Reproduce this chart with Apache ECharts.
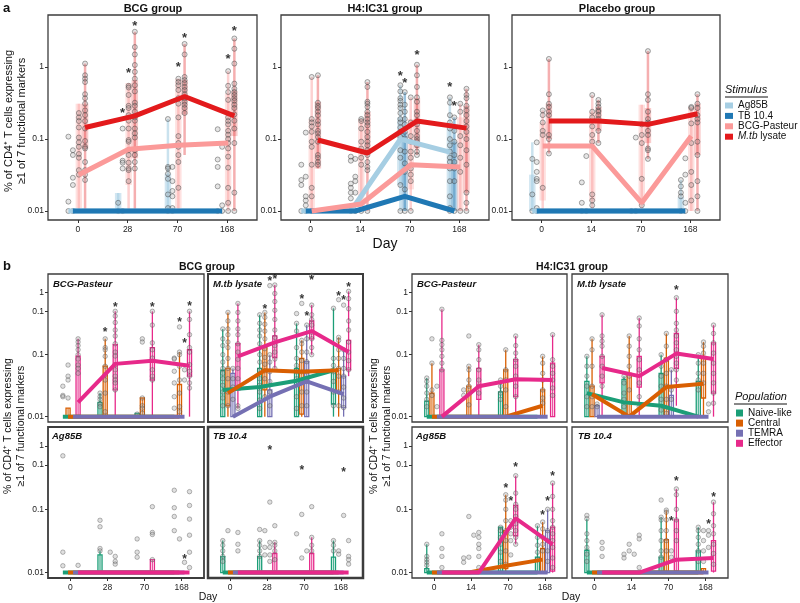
<!DOCTYPE html>
<html><head><meta charset="utf-8">
<script src="https://cdn.jsdelivr.net/npm/echarts@6/dist/echarts.min.js"></script>
<style>html,body{margin:0;padding:0;background:#fff}#c{width:800px;height:603px}</style>
</head><body><div id="c"></div><script>
// ---------- labels / categories ----------
const stimNames = ['Ag85B', 'TB 10.4', 'BCG-Pasteur', 'M.tb lysate'];
const popNames = ['Naive-like', 'Central', 'TEMRA', 'Effector'];
const daysBCG = ['0', '28', '70', '168'];
const daysH4 = ['0', '14', '70', '168'];
const yTicksA = [0.01, 0.1, 1];
const yTickLabelsA = ['0.01', '0.1', '1'];
const yTicksB = [0.01, 0.1, 0.5, 1];
const yTickLabelsB = ['0.01', '0.1', '0.1', '1'];

// ---------- panel a: medians [stimulus][day] ----------
const aBCG_med = [[0.01,0.01,0.01,0.01],[0.01,0.01,0.01,0.01],[0.032,0.072,0.082,0.088],[0.145,0.21,0.39,0.21]];
const aH4_med  = [[0.01,0.01,0.1,0.066],[0.01,0.01,0.016,0.01],[0.01,0.0125,0.044,0.041],[0.097,0.064,0.178,0.142]];
const aPl_med  = [[0.01,0.01,0.01,0.01],[0.01,0.01,0.01,0.01],[0.08,0.08,0.013,0.11],[0.178,0.178,0.16,0.225]];
// boxes: [stimulus, day, low whisker, q1, q3, high whisker]
const aBCG_box = [[2,0,0.01,0.011,0.31,0.31],[3,0,0.01,0.074,0.31,1.12],[0,1,0.01,0.01,0.0178,0.0178],[2,1,0.01,0.023,0.6,0.6],[3,1,0.01,0.054,0.66,3.1],[0,2,0.01,0.01,0.033,0.19],[2,2,0.01,0.011,0.69,0.69],[3,2,0.06,0.22,0.66,2.1],[2,3,0.01,0.0115,0.43,0.88],[3,3,0.01,0.11,0.47,2.5]];
const aH4_box = [[2,0,0.01,0.01,0.19,0.73],[3,0,0.039,0.039,0.33,0.77],[2,1,0.01,0.0115,0.19,0.19],[3,1,0.01,0.06,0.24,0.62],[0,2,0.01,0.023,0.2,0.56],[1,2,0.01,0.01,0.126,0.45],[2,2,0.01,0.02,0.19,0.38],[3,2,0.06,0.074,0.37,1.08],[0,3,0.01,0.01,0.14,0.38],[1,3,0.01,0.01,0.092,0.2],[2,3,0.01,0.01,0.2,0.31],[3,3,0.01,0.018,0.29,0.5]];
const aPl_box = [[0,0,0.01,0.01,0.032,0.09],[2,0,0.01,0.014,0.17,0.25],[3,0,0.063,0.1,0.31,1.3],[2,1,0.01,0.0136,0.24,0.41],[3,1,0.088,0.13,0.28,0.35],[2,2,0.01,0.012,0.3,0.3],[3,2,0.053,0.088,0.27,1.67],[0,3,0.01,0.01,0.0155,0.027],[2,3,0.01,0.01,0.28,0.28],[3,3,0.01,0.06,0.31,0.42]];
// points: [stimulus, day, values...]
const aBCG_pts = [
 [0,0,0.108,0.0135,0.01],[1,0,0.07,0.06,0.029,0.023,0.01],
 [2,0,0.23,0.2,0.178,0.145,0.105,0.09,0.078,0.062,0.055,0.037,0.032],
 [3,0,1.12,0.77,0.69,0.62,0.42,0.37,0.31,0.25,0.215,0.178,0.14,0.094,0.078,0.074,0.048,0.037,0.032,0.027],
 [0,1,0.013,0.01],[1,1,0.14,0.05,0.047,0.039,0.01],
 [2,1,0.55,0.52,0.41,0.29,0.27,0.215,0.18,0.14,0.097,0.092,0.07,0.06,0.047,0.039,0.037,0.026],
 [3,1,3.1,1.9,1.5,1.07,0.86,0.69,0.56,0.46,0.32,0.29,0.24,0.2,0.18,0.14,0.12,0.105,0.07,0.06,0.048,0.039],
 [0,2,0.19,0.041,0.039,0.033,0.028,0.017,0.011,0.01],[1,2,0.041,0.026,0.019,0.016,0.011,0.01],
 [2,2,0.69,0.62,0.56,0.48,0.37,0.31,0.2,0.11,0.088,0.078,0.06,0.048,0.021],
 [3,2,2.1,1.5,0.73,0.66,0.6,0.53,0.48,0.42,0.37,0.33,0.3,0.27,0.23],
 [0,3,0.137,0.052,0.041,0.022,0.01],[1,3,0.078,0.012,0.01],
 [2,3,0.88,0.55,0.45,0.35,0.2,0.178,0.16,0.13,0.115,0.1,0.088,0.074,0.057,0.04,0.021,0.013,0.01],
 [3,3,2.5,1.8,1.12,0.59,0.5,0.45,0.41,0.37,0.34,0.3,0.27,0.22,0.18,0.14,0.088,0.018,0.01]];
const aH4_pts = [
 [0,0,0.044,0.027,0.023,0.01],[1,0,0.123,0.03,0.016,0.014,0.012,0.01],
 [2,0,0.73,0.19,0.17,0.15,0.126,0.092,0.078,0.044,0.021,0.016,0.01],
 [3,0,0.77,0.32,0.29,0.27,0.24,0.215,0.178,0.16,0.13,0.12,0.107,0.092,0.06,0.055,0.048,0.044],
 [0,1,0.057,0.05,0.024,0.021,0.018,0.015,0.01],[1,1,0.053,0.03,0.026,0.018,0.01],
 [2,1,0.19,0.178,0.14,0.092,0.074,0.055,0.044,0.01],
 [3,1,0.62,0.53,0.33,0.31,0.28,0.24,0.215,0.19,0.17,0.155,0.126,0.107,0.092,0.082,0.07,0.06,0.048,0.041,0.037,0.01],
 [0,2,0.56,0.46,0.37,0.34,0.3,0.27,0.23,0.19,0.17,0.145,0.126,0.107,0.07,0.055,0.023,0.01],
 [1,2,0.45,0.3,0.24,0.19,0.16,0.126,0.102,0.067,0.046,0.035,0.02,0.01],
 [2,2,0.38,0.17,0.11,0.092,0.067,0.055,0.039,0.032,0.026,0.01],
 [3,2,1.08,0.77,0.53,0.38,0.33,0.24,0.215,0.178,0.16,0.13,0.11,0.1,0.092,0.082,0.067,0.06],
 [0,3,0.38,0.32,0.215,0.17,0.14,0.1,0.082,0.067,0.055,0.048,0.039,0.026,0.016,0.011,0.01],
 [1,3,0.2,0.13,0.092,0.06,0.048,0.039,0.026,0.01],[2,3,0.31,0.24,0.11,0.082,0.055,0.035,0.01],
 [3,3,0.5,0.41,0.37,0.29,0.25,0.215,0.178,0.15,0.126,0.1,0.07,0.044,0.018,0.013,0.01]];
const aPl_pts = [
 [0,0,0.053,0.017,0.01],[1,0,0.09,0.048,0.035,0.028,0.026,0.011,0.01],[2,0,0.25,0.215,0.17,0.13,0.114,0.021],
 [3,0,1.3,0.42,0.31,0.28,0.24,0.215,0.114,0.1,0.063],
 [0,1,0.025,0.013,0.01],[1,1,0.058,0.01],[2,1,0.41,0.24,0.2,0.15,0.114,0.092,0.017,0.014,0.012],
 [3,1,0.35,0.31,0.28,0.25,0.24,0.215,0.19,0.13,0.088],
 [0,2,0.01],[1,2,0.105,0.01],[2,2,0.16,0.114,0.088,0.028,0.012],
 [3,2,1.67,0.42,0.35,0.24,0.19,0.17,0.16,0.13,0.114,0.074,0.07,0.053],
 [0,3,0.027,0.022,0.018,0.016,0.01],[1,3,0.054,0.032,0.013,0.01],[2,3,0.28,0.27,0.165,0.088,0.035,0.023,0.014],
 [3,3,0.42,0.31,0.27,0.215,0.19,0.17,0.092,0.06,0.026,0.016,0.01]];
// significance stars: [stimulus, day, value]
const aBCG_star = [[1,1,0.25],[2,1,0.91],[3,1,4.0],[2,2,1.09],[3,2,2.8],[2,3,1.39],[3,3,3.5]];
const aH4_star = [[0,2,0.82],[1,2,0.66],[3,2,1.6],[0,3,0.57],[1,3,0.31]];
const aPl_star = [];

// ---------- panel b: medians [population][day] ----------
const bBCG_BCGP_med = [[0.01,0.01,0.01,0.01],[0.01,0.01,0.01,0.01],[0.01,0.01,0.01,0.01],[0.017,0.071,0.08,0.066]];
const bBCG_Mtb_med = [[0.027,0.03,0.038,0.056],[0.024,0.056,0.053,0.056],[0.01,0.021,0.037,0.023],[0.094,0.158,0.24,0.11]];
const bBCG_Ag_med = [[0.01,0.01,0.01,0.01],[0.01,0.01,0.01,0.01],[0.01,0.01,0.01,0.01],[0.01,0.01,0.01,0.01]];
const bBCG_TB_med = [[0.01,0.01,0.01,0.01],[0.01,0.01,0.01,0.01],[0.01,0.01,0.01,0.01],[0.01,0.01,0.01,0.01]];
const bH4_BCGP_med = [[0.01,0.01,0.01,0.01],[0.01,0.01,0.01,0.015],[0.01,0.01,0.01,0.01],[0.01,0.031,0.04,0.039]];
const bH4_Mtb_med = [[0.024,0.017,0.015,0.01],[0.023,0.01,0.03,0.034],[0.01,0.01,0.01,0.01],[0.061,0.045,0.104,0.085]];
const bH4_Ag_med = [[0.01,0.01,0.01,0.01],[0.01,0.01,0.0128,0.016],[0.01,0.01,0.01,0.01],[0.01,0.01,0.072,0.028]];
const bH4_TB_med = [[0.01,0.01,0.01,0.01],[0.01,0.01,0.01,0.01],[0.01,0.01,0.01,0.01],[0.01,0.01,0.016,0.017]];
// boxes: [population, day, low, q1, q3, high]
const bBCG_BCGP_box = [[1,0,0.01,0.01,0.0137,0.0137],[3,0,0.01,0.0105,0.095,0.18],[0,1,0.01,0.01,0.017,0.024],[1,1,0.01,0.0105,0.065,0.18],[3,1,0.01,0.027,0.145,0.5],[0,2,0.01,0.01,0.0113,0.0113],[1,2,0.01,0.01,0.02,0.02],[3,2,0.01,0.039,0.13,0.5],[1,3,0.01,0.01,0.033,0.11],[3,3,0.01,0.045,0.12,0.5]];
const bBCG_Mtb_box = [[0,0,0.01,0.01,0.056,0.26],[1,0,0.01,0.015,0.06,0.48],[2,0,0.01,0.01,0.05,0.06],[3,0,0.0136,0.027,0.15,0.67],[0,1,0.01,0.01,0.06,0.44],[1,1,0.01,0.027,0.13,0.48],[2,1,0.01,0.01,0.027,0.1],[3,1,0.06,0.09,0.2,1.33],[0,2,0.01,0.01,0.06,0.32],[1,2,0.01,0.011,0.087,0.17],[2,2,0.01,0.01,0.077,0.3],[3,2,0.1,0.18,0.35,0.63],[0,3,0.01,0.016,0.058,0.56],[1,3,0.01,0.025,0.06,0.19],[2,3,0.01,0.014,0.045,0.12],[3,3,0.045,0.057,0.17,1.05]];
const bBCG_Ag_box = [[0,1,0.01,0.01,0.019,0.022],[3,2,0.01,0.01,0.016,0.016]];
const bBCG_TB_box = [[0,0,0.01,0.01,0.0178,0.032],[0,1,0.01,0.01,0.0178,0.032],[3,1,0.01,0.01,0.02,0.03],[3,2,0.01,0.01,0.02,0.036],[0,3,0.01,0.01,0.0175,0.032]];
const bH4_BCGP_box = [[0,0,0.01,0.01,0.0178,0.042],[1,0,0.01,0.01,0.024,0.073],[3,0,0.01,0.01,0.057,0.54],[1,1,0.01,0.01,0.031,0.065],[3,1,0.01,0.019,0.06,0.145],[0,2,0.01,0.01,0.025,0.039],[1,2,0.01,0.01,0.057,0.12],[3,2,0.01,0.021,0.083,0.2],[1,3,0.01,0.01,0.027,0.094],[3,3,0.01,0.01,0.073,0.21]];
const bH4_Mtb_box = [[0,0,0.01,0.01,0.037,0.094],[1,0,0.01,0.01,0.031,0.18],[2,0,0.01,0.01,0.015,0.016],[3,0,0.01,0.035,0.094,0.44],[0,1,0.01,0.01,0.04,0.045],[1,1,0.01,0.01,0.05,0.2],[3,1,0.01,0.03,0.094,0.39],[0,2,0.01,0.01,0.05,0.1],[1,2,0.01,0.01,0.088,0.22],[2,2,0.01,0.01,0.022,0.057],[3,2,0.015,0.06,0.22,0.83],[0,3,0.01,0.01,0.037,0.1],[1,3,0.01,0.02,0.094,0.16],[3,3,0.01,0.024,0.155,0.3]];
const bH4_Ag_box = [[0,0,0.01,0.01,0.0115,0.028],[0,2,0.01,0.01,0.052,0.052],[1,2,0.01,0.0115,0.046,0.17],[3,2,0.028,0.038,0.115,0.34],[0,3,0.01,0.01,0.0175,0.055],[1,3,0.01,0.01,0.024,0.063],[2,3,0.01,0.01,0.046,0.1],[3,3,0.01,0.0105,0.052,0.26]];
const bH4_TB_box = [[0,0,0.01,0.01,0.0225,0.071],[0,2,0.01,0.01,0.0175,0.075],[1,2,0.01,0.01,0.033,0.097],[3,2,0.01,0.0105,0.068,0.21],[0,3,0.01,0.01,0.022,0.052],[1,3,0.01,0.01,0.0115,0.0115],[3,3,0.01,0.0105,0.032,0.13]];
// points: [population, day, values...]
const bBCG_BCGP_pts = [[0,0,0.031,0.022,0.021],[1,0,0.068,0.045,0.039,0.02],[3,0,0.18,0.16,0.14,0.12,0.1,0.085,0.068,0.06,0.05],
 [0,1,0.024,0.021,0.019,0.016,0.0145],[1,1,0.18,0.13,0.12,0.094,0.065,0.047,0.039,0.024,0.012],
 [3,1,0.5,0.42,0.33,0.25,0.2,0.15,0.11,0.095,0.069,0.057,0.045,0.039,0.035,0.027],
 [0,2,0.011],[1,2,0.18,0.16,0.02,0.015,0.0137,0.0113],[3,2,0.5,0.3,0.155,0.12,0.088,0.057,0.045,0.039],
 [0,3,0.088,0.085,0.054,0.035,0.021,0.0137],[1,3,0.28,0.11,0.1,0.065,0.039,0.024,0.0145,0.012],[2,3,0.057,0.039],
 [3,3,0.5,0.37,0.21,0.13,0.11,0.069,0.054,0.045,0.035,0.029]];
const bBCG_Mtb_pts = [[0,0,0.26,0.18,0.14,0.1,0.076,0.06,0.05,0.041,0.032,0.025,0.02,0.015],
 [1,0,0.48,0.35,0.26,0.21,0.16,0.13,0.087,0.06,0.041,0.025,0.015],[2,0,0.06,0.041,0.03,0.019],
 [3,0,0.67,0.48,0.35,0.26,0.21,0.15,0.11,0.084,0.06,0.041,0.03,0.015,0.0136],
 [0,1,0.44,0.32,0.25,0.2,0.15,0.1,0.076,0.056,0.041,0.032,0.025,0.0185,0.0136],
 [1,1,0.48,0.4,0.31,0.24,0.18,0.125,0.09,0.07,0.055,0.041,0.021],[2,1,1.3,0.1,0.076,0.053,0.037,0.025,0.015],
 [3,1,1.33,0.97,0.72,0.52,0.37,0.25,0.19,0.14,0.11,0.085,0.06],
 [0,2,0.46,0.32,0.24,0.13,0.087,0.067,0.053,0.041,0.021,0.0136],[1,2,0.67,0.17,0.15,0.11,0.08,0.053,0.037,0.025,0.015],
 [2,2,0.3,0.18,0.11,0.077,0.053,0.037,0.025,0.015],[3,2,1.9,0.63,0.44,0.37,0.3,0.23,0.18,0.13,0.1],
 [0,3,0.56,0.087,0.067,0.053,0.037,0.025,0.015],[1,3,0.77,0.19,0.17,0.12,0.087,0.06,0.045,0.025,0.015],
 [2,3,0.63,0.12,0.087,0.06,0.045,0.03,0.02,0.014],[3,3,1.05,0.8,0.55,0.35,0.25,0.16,0.11,0.08,0.057]];
const bBCG_Ag_pts = [[0,0,0.7,0.021,0.0128],[3,0,0.013],[0,1,0.067,0.053,0.024,0.022],[2,1,0.021],[3,1,0.018,0.015,0.0136],
 [0,2,0.034,0.021,0.0175],[3,2,0.11,0.043,0.04,0.016],[0,3,0.2,0.106,0.077,0.046],[1,3,0.034],[2,3,0.0145],
 [3,3,0.19,0.115,0.07,0.039,0.021,0.012]];
const bBCG_TB_pts = [[0,0,0.032,0.027,0.022,0.018,0.015],[1,0,0.046],[3,0,0.043,0.028,0.022],
 [0,1,0.048,0.032,0.027,0.022,0.018],[1,1,0.046,0.025,0.019],[2,1,0.13,0.03,0.025,0.019,0.015],[3,1,0.055,0.03,0.027,0.022,0.016],
 [0,2,0.041],[1,2,0.083,0.017],[2,2,0.022],[3,2,0.11,0.036,0.027,0.022],
 [0,3,0.032,0.027,0.022],[1,3,0.022,0.0195],[2,3,0.08],[3,3,0.032,0.018,0.016,0.0136]];
const bH4_BCGP_pts = [[0,0,0.042,0.037,0.031,0.024,0.019,0.0145],[1,0,0.18,0.073,0.027,0.022],[2,0,0.031,0.0145],
 [3,0,0.54,0.17,0.145,0.12,0.094,0.073,0.057],[0,1,0.027,0.022],[1,1,0.2,0.065,0.057,0.039,0.031,0.024,0.0155],
 [3,1,0.145,0.12,0.083,0.057,0.039,0.031,0.024],[0,2,0.039,0.031,0.024,0.019],[1,2,0.12,0.057,0.039,0.027,0.0145],
 [3,2,0.2,0.14,0.106,0.083,0.065,0.045,0.031,0.021],[1,3,0.094,0.073,0.05,0.039,0.027,0.02,0.0165],
 [3,3,0.21,0.083,0.065,0.05,0.039,0.029,0.022]];
const bH4_Mtb_pts = [[0,0,0.094,0.065,0.045,0.031,0.021,0.0145],[1,0,0.18,0.12,0.065,0.031,0.021,0.0145],[2,0,0.016,0.0145],
 [3,0,0.44,0.2,0.165,0.137,0.094,0.065,0.045,0.031],[0,1,0.045,0.035,0.024,0.019,0.0145],[1,1,0.2,0.137,0.094,0.065,0.045,0.027],
 [3,1,0.39,0.29,0.18,0.12,0.083,0.057,0.035,0.021,0.0145],[0,2,0.1,0.065,0.045,0.031,0.019,0.0128],
 [1,2,0.22,0.137,0.083,0.05,0.031,0.019,0.0113],[2,2,0.057,0.027,0.019],
 [3,2,0.83,0.5,0.32,0.25,0.2,0.155,0.12,0.094,0.073,0.057,0.039],[0,3,0.1,0.073,0.05,0.039,0.027],
 [1,3,0.16,0.137,0.106,0.073,0.05,0.035],[2,3,0.016,0.012],[3,3,0.3,0.22,0.155,0.106,0.073,0.05,0.035,0.024,0.0165]];
const bH4_Ag_pts = [[0,0,0.028,0.018,0.016,0.0145,0.013],[3,0,0.041,0.024,0.018,0.012],[0,1,0.017,0.0145],[1,1,0.077,0.0175],
 [2,1,0.039],[3,1,0.043,0.036,0.028,0.024,0.018,0.012],[0,2,0.052,0.046,0.036,0.028,0.021,0.015],
 [1,2,0.17,0.14,0.1,0.066,0.046,0.032,0.022,0.0135],[2,2,0.066,0.052,0.041,0.032,0.019],
 [3,2,0.34,0.18,0.12,0.1,0.077,0.059,0.046,0.036,0.028],[0,3,0.055,0.036,0.027,0.021,0.016],
 [1,3,0.063,0.049,0.036,0.028,0.022],[2,3,0.1,0.046,0.032,0.022,0.015],[3,3,0.26,0.16,0.1,0.066,0.052,0.041,0.032,0.025,0.017,0.012]];
const bH4_TB_pts = [[0,0,0.08,0.071,0.041,0.032,0.025,0.0195,0.015],[3,0,0.03,0.024,0.018],[0,1,0.0195,0.017],[1,1,0.028,0.022],
 [2,1,0.0195],[3,1,0.039,0.034,0.012],[0,2,0.14,0.075,0.068,0.046,0.032,0.022,0.0175],[1,2,0.097,0.09,0.068,0.046,0.032,0.022],
 [2,2,0.022,0.0175],[3,2,0.21,0.17,0.1,0.068,0.046,0.032],[0,3,0.052,0.046,0.036,0.028,0.022,0.015],
 [1,3,0.046,0.032,0.022,0.015],[2,3,0.046,0.039,0.025],[3,3,0.13,0.085,0.055,0.041,0.028,0.02,0.0135]];
// stars: [population, day, value]
const bBCG_BCGP_star = [[1,1,0.25],[3,1,0.65],[3,2,0.65],[1,3,0.36],[2,3,0.17],[3,3,0.67]];
const bBCG_Mtb_star = [[2,1,1.7],[3,1,1.78],[1,1,0.59],[1,2,0.86],[2,2,0.45],[3,2,1.75],[1,3,0.97],[2,3,0.83],[3,3,1.33]];
const bBCG_Ag_star = [[2,3,0.0178]];
const bBCG_TB_star = [[2,1,0.93],[1,2,0.46],[2,3,0.43]];
const bH4_BCGP_star = [];
const bH4_Mtb_star = [[3,2,1.2]];
const bH4_Ag_star = [[1,2,0.24],[2,2,0.148],[3,2,0.5],[1,3,0.09],[2,3,0.148],[3,3,0.37]];
const bH4_TB_star = [[2,2,0.071],[3,2,0.3],[2,3,0.063],[3,3,0.17]];

// ---------- styling ----------
const FONT = 'Liberation Sans';
const stimColors = ['#a6cee3', '#1f78b4', '#fb9a99', '#e31a1c'];
const popColors = ['#1b9e77', '#d95f02', '#7570b3', '#e7298a'];
const offA = [-0.19, -0.1, 0.02, 0.145];
const offB = [-0.2, -0.06, 0.075, 0.21];
const boxFillA = [0.5, 0.3, 0.3, 0.22];
const boxLineA = [0.6, 0.45, 0.45, 0.35];

function rgba(hex, a) {
  const n = parseInt(hex.slice(1), 16);
  return 'rgba(' + (n >> 16 & 255) + ',' + (n >> 8 & 255) + ',' + (n & 255) + ',' + a + ')';
}
function tickIdx(ticks, v) {
  let best = 0, bd = 1e9;
  ticks.forEach((t, i) => { const d = Math.abs(Math.log10(t) - Math.log10(v)); if (d < bd) { bd = d; best = i; } });
  return best;
}

const grids = [], xAxes = [], yAxes = [], series = [];

function addPanel(p) {
  const gi = grids.length;
  const isA = p.kind === 'a';
  const colors = isA ? stimColors : popColors;
  const off = isA ? offA : offB;
  const names = isA ? stimNames : popNames;
  grids.push({ left: p.left, top: p.top, width: p.width, height: p.height, show: true,
    borderColor: '#3c3c3c', borderWidth: p.bw || 1.3, backgroundColor: '#fff', outerBoundsMode: 'none', containLabel: false });
  xAxes.push({ type: 'value', gridIndex: gi, min: 0.4, max: 4.6,
    axisLine: { show: false }, splitLine: { show: false },
    axisTick: { show: p.showX, customValues: [1, 2, 3, 4], length: 3, lineStyle: { color: '#333', width: 1 } },
    axisLabel: { show: p.showX, customValues: [1, 2, 3, 4], margin: 5, fontSize: 8.5, fontFamily: FONT, color: '#222',
      formatter: v => p.days[Math.round(v) - 1] } });
  const yt = isA ? yTicksA : yTicksB, yl = isA ? yTickLabelsA : yTickLabelsB;
  yAxes.push({ type: 'log', logBase: 10, gridIndex: gi, min: isA ? 0.0075 : 0.0082, max: isA ? 5.3 : 2.0,
    axisLine: { show: false }, splitLine: { show: false }, minorTick: { show: false },
    axisTick: { show: p.showY, customValues: yt, length: 3, lineStyle: { color: '#333', width: 1 } },
    axisLabel: { show: p.showY, customValues: yt, margin: 4, fontSize: 8.5, fontFamily: FONT, color: '#222',
      formatter: v => yl[tickIdx(yt, v)] } });

  const bw = isA ? 0.13 : 0.11;
  series.push({ type: 'custom', xAxisIndex: gi, yAxisIndex: gi, silent: true, z: 1, clip: true,
    encode: { x: 0, y: [1, 2, 3, 4] },
    data: p.box.map(b => [b[1] + 1 + off[b[0]], b[2], b[3], b[4], b[5], b[0]]),
    renderItem: function (params, api) {
      const x = api.value(0), k = api.value(5), c = colors[k];
      const lo = api.coord([x, api.value(1)]), hi = api.coord([x, api.value(4)]);
      const tl = api.coord([x - bw / 2, api.value(3)]), br = api.coord([x + bw / 2, api.value(2)]);
      const h = Math.max(br[1] - tl[1], 1);
      const whisk = { type: 'line', shape: { x1: lo[0], y1: lo[1], x2: hi[0], y2: hi[1] },
        style: isA ? { stroke: rgba(c, boxLineA[k]), lineWidth: 2.5 } : { stroke: c, lineWidth: 1.3 } };
      const rect = { type: 'rect', shape: { x: tl[0], y: tl[1], width: br[0] - tl[0], height: h },
        style: isA ? { fill: rgba(c, boxFillA[k]) } : { fill: 'rgba(255,255,255,0.2)', stroke: c, lineWidth: 1.3 } };
      return { type: 'group', children: [whisk, rect] };
    } });

  const pts = [];
  p.pts.forEach(r => { for (let j = 2; j < r.length; j++) pts.push([r[1] + 1 + off[r[0]], r[j]]); });
  series.push({ type: 'scatter', xAxisIndex: gi, yAxisIndex: gi, silent: true, z: 2, data: pts,
    symbolSize: isA ? 5 : 4.5,
    itemStyle: { color: isA ? 'rgba(150,150,150,0.3)' : 'rgba(160,160,160,0.4)',
      borderColor: isA ? 'rgba(45,45,45,0.65)' : 'rgba(70,70,70,0.6)', borderWidth: 0.8 } });

  p.med.forEach((m, k) => series.push({ type: 'line', name: names[k], xAxisIndex: gi, yAxisIndex: gi, z: 3 + k * 0.01,
    silent: true, symbol: 'none', data: m.map((v, d) => [d + 1 + off[k], v]),
    lineStyle: { color: colors[k], width: isA ? 5 : 4 }, itemStyle: { color: colors[k] } }));

  series.push({ type: 'scatter', xAxisIndex: gi, yAxisIndex: gi, silent: true, z: 6, symbolSize: 1,
    data: p.star.map(s => [s[1] + 1 + off[s[0]], s[2]]),
    itemStyle: { color: 'rgba(0,0,0,0)' },
    label: { show: true, position: 'inside', formatter: '*', fontSize: isA ? 13 : 12, fontWeight: 'bold',
      fontFamily: FONT, color: '#000', offset: [0, 3] } });
}

// ---------- panels ----------
addPanel({ kind: 'a', left: 48, top: 15, width: 209, height: 205, days: daysBCG, showX: true, showY: true,
  med: aBCG_med, box: aBCG_box, pts: aBCG_pts, star: aBCG_star });
addPanel({ kind: 'a', left: 281, top: 15, width: 208, height: 205, days: daysH4, showX: true, showY: true,
  med: aH4_med, box: aH4_box, pts: aH4_pts, star: aH4_star });
addPanel({ kind: 'a', left: 512, top: 15, width: 208, height: 205, days: daysH4, showX: true, showY: true,
  med: aPl_med, box: aPl_box, pts: aPl_pts, star: aPl_star });

addPanel({ kind: 'b', left: 48, top: 274, width: 156, height: 148, days: daysBCG, showX: false, showY: true,
  med: bBCG_BCGP_med, box: bBCG_BCGP_box, pts: bBCG_BCGP_pts, star: bBCG_BCGP_star });
addPanel({ kind: 'b', left: 208, top: 274, width: 155, height: 148, days: daysBCG, showX: false, showY: false, bw: 2,
  med: bBCG_Mtb_med, box: bBCG_Mtb_box, pts: bBCG_Mtb_pts, star: bBCG_Mtb_star });
addPanel({ kind: 'b', left: 48, top: 427, width: 156, height: 151, days: daysBCG, showX: true, showY: true, bw: 1.8,
  med: bBCG_Ag_med, box: bBCG_Ag_box, pts: bBCG_Ag_pts, star: bBCG_Ag_star });
addPanel({ kind: 'b', left: 208, top: 427, width: 155, height: 151, days: daysBCG, showX: true, showY: false, bw: 2.5,
  med: bBCG_TB_med, box: bBCG_TB_box, pts: bBCG_TB_pts, star: bBCG_TB_star });

addPanel({ kind: 'b', left: 412, top: 274, width: 155, height: 148, days: daysH4, showX: false, showY: true,
  med: bH4_BCGP_med, box: bH4_BCGP_box, pts: bH4_BCGP_pts, star: bH4_BCGP_star });
addPanel({ kind: 'b', left: 572, top: 274, width: 156, height: 148, days: daysH4, showX: false, showY: false,
  med: bH4_Mtb_med, box: bH4_Mtb_box, pts: bH4_Mtb_pts, star: bH4_Mtb_star });
addPanel({ kind: 'b', left: 412, top: 427, width: 155, height: 151, days: daysH4, showX: true, showY: true,
  med: bH4_Ag_med, box: bH4_Ag_box, pts: bH4_Ag_pts, star: bH4_Ag_star });
addPanel({ kind: 'b', left: 572, top: 427, width: 156, height: 151, days: daysH4, showX: true, showY: false,
  med: bH4_TB_med, box: bH4_TB_box, pts: bH4_TB_pts, star: bH4_TB_star });

// ---------- texts ----------
function txt(x, y, s, font, align, rot) {
  return { type: 'text', x: x, y: y, rotation: rot || 0, silent: true, z: 10,
    style: { text: s, font: font, fill: '#111', align: align || 'center', verticalAlign: 'middle', lineHeight: 13 } };
}
const F = '"Liberation Sans"';
const yTitle = '% of CD4\u207A T cells expressing\n\u22651 of 7 functional markers';
const graphics = [
  txt(3, 8, 'a', 'bold 13px ' + F, 'left'),
  txt(3, 266, 'b', 'bold 13px ' + F, 'left'),
  txt(153, 9, 'BCG group', 'bold 11px ' + F),
  txt(385, 9, 'H4:IC31 group', 'bold 11px ' + F),
  txt(617, 9, 'Placebo group', 'bold 11px ' + F),
  txt(385, 244, 'Day', '14px ' + F),
  txt(15.5, 121, yTitle, '11px ' + F, 'center', Math.PI / 2),
  txt(207, 267, 'BCG group', 'bold 10.5px ' + F),
  txt(572, 267, 'H4:IC31 group', 'bold 10.5px ' + F),
  txt(208, 597, 'Day', '10.5px ' + F),
  txt(571, 597, 'Day', '10.5px ' + F),
  txt(14.5, 426, yTitle, '10.5px ' + F, 'center', Math.PI / 2),
  txt(381, 426, yTitle, '10.5px ' + F, 'center', Math.PI / 2),
  txt(53, 284, 'BCG-Pasteur', 'italic bold 9.5px ' + F, 'left'),
  txt(213, 284, 'M.tb lysate', 'italic bold 9.5px ' + F, 'left'),
  txt(52, 436, 'Ag85B', 'italic bold 9.5px ' + F, 'left'),
  txt(213, 436, 'TB 10.4', 'italic bold 9.5px ' + F, 'left'),
  txt(417, 284, 'BCG-Pasteur', 'italic bold 9.5px ' + F, 'left'),
  txt(577, 284, 'M.tb lysate', 'italic bold 9.5px ' + F, 'left'),
  txt(416, 436, 'Ag85B', 'italic bold 9.5px ' + F, 'left'),
  txt(578, 436, 'TB 10.4', 'italic bold 9.5px ' + F, 'left'),
  txt(725, 90, 'Stimulus', 'italic 11px ' + F, 'left'),
  { type: 'line', silent: true, shape: { x1: 725, y1: 97, x2: 768, y2: 97 }, style: { stroke: '#111', lineWidth: 1 } },
  txt(735, 397, 'Population', 'italic 11px ' + F, 'left'),
  { type: 'line', silent: true, shape: { x1: 734, y1: 404, x2: 787, y2: 404 }, style: { stroke: '#111', lineWidth: 1 } }
];

const chart = echarts.init(document.getElementById('c'), null, { renderer: 'canvas' });
chart.setOption({
  backgroundColor: '#fff',
  animation: false,
  grid: grids, xAxis: xAxes, yAxis: yAxes, series: series,
  legend: [
    { data: stimNames, orient: 'vertical', left: 725, top: 100.5, icon: 'rect', itemWidth: 8, itemHeight: 6,
      itemGap: 0.4, selectedMode: false, padding: 0,
      textStyle: { fontSize: 10, fontFamily: FONT, color: '#111', lineHeight: 9,
        rich: { i: { fontStyle: 'italic', fontSize: 10, fontFamily: FONT, color: '#111', lineHeight: 9 } } },
      formatter: n => n === 'M.tb lysate' ? '{i|M.tb} lysate' : n },
    { data: popNames, orient: 'vertical', left: 736, top: 408, icon: 'rect', itemWidth: 7, itemHeight: 7,
      itemGap: 0.1, selectedMode: false, padding: 0,
      textStyle: { fontSize: 10, fontFamily: FONT, color: '#111', lineHeight: 10 } }
  ],
  graphic: graphics
});
</script></body></html>
